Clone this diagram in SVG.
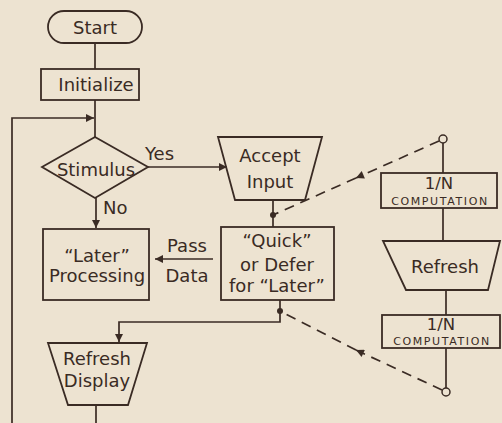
<svg xmlns="http://www.w3.org/2000/svg" width="502" height="423" viewBox="0 0 502 423">
<style>
.bg{fill:#ede3d1}
.shape{fill:none;stroke:#3a2b24;stroke-width:1.8}
.line{fill:none;stroke:#3a2b24;stroke-width:1.7}
.dash{fill:none;stroke:#3a2b24;stroke-width:1.7;stroke-dasharray:10 7}
.dot{fill:#3a2b24}
.ring{fill:#ede3d1;stroke:#3a2b24;stroke-width:1.5}
text{font-family:"DejaVu Sans","Liberation Sans",sans-serif;font-size:18px;fill:#3a2b24;text-anchor:middle}
.mid{font-size:16.5px}
.small{font-size:11px;letter-spacing:1.6px}
.left{text-anchor:start}
</style>
<defs>
<marker id="arr" viewBox="0 0 10 10" refX="10" refY="5" markerWidth="10" markerHeight="8" markerUnits="userSpaceOnUse" orient="auto">
<path d="M0,0 L10,5 L0,10 Z" fill="#3a2b24"/>
</marker>
</defs>
<rect class="bg" x="0" y="0" width="502" height="423"/>

<g id="connectors">
<line class="line" x1="95" y1="43" x2="95" y2="69"/>
<line class="line" x1="95" y1="100" x2="95" y2="137"/>
<polyline class="line" points="12,423 12,118 94,118" marker-end="url(#arr)"/>
<line class="line" x1="148" y1="167" x2="227" y2="167" marker-end="url(#arr)"/>
<text class="left" x="145" y="160">Yes</text>
<line class="line" x1="96" y1="198" x2="96" y2="228" marker-end="url(#arr)"/>
<text class="left" x="103" y="214">No</text>
<line class="line" x1="273" y1="200" x2="273" y2="227"/>
<circle class="dot" cx="273" cy="215" r="3"/>
<line class="line" x1="213" y1="259" x2="155" y2="259" marker-end="url(#arr)"/>
<text x="187" y="252">Pass</text>
<text x="187" y="282">Data</text>
<polyline class="line" points="280,300 280,322 119,322 119,342" marker-end="url(#arr)"/>
<circle class="dot" cx="280" cy="311" r="3"/>
<line class="line" x1="96" y1="405" x2="96" y2="423"/>
<line class="line" x1="443" y1="143" x2="443" y2="173"/>
<circle class="ring" cx="443" cy="139" r="4"/>
<line class="line" x1="443" y1="208" x2="443" y2="241"/>
<line class="line" x1="446" y1="290" x2="446" y2="315"/>
<line class="line" x1="446" y1="348" x2="446" y2="388"/>
<circle class="ring" cx="446" cy="392" r="4"/>
<line class="dash" x1="439" y1="141" x2="356" y2="178" marker-end="url(#arr)"/>
<line class="dash" x1="356" y1="178" x2="273" y2="215"/>
<line class="dash" x1="442" y1="390" x2="356" y2="350" marker-end="url(#arr)"/>
<line class="dash" x1="356" y1="350" x2="280" y2="311"/>
</g>

<g id="start">
<rect class="shape" x="48" y="11" width="94" height="32" rx="16"/>
<text x="95" y="34">Start</text>
</g>
<g id="initialize">
<rect class="shape" x="41" y="69" width="98" height="31"/>
<text x="96" y="91">Initialize</text>
</g>
<g id="stimulus">
<polygon class="shape" points="95,137 148,167 95,198 42,167"/>
<text x="96" y="176">Stimulus</text>
</g>
<g id="accept-input">
<polygon class="shape" points="218,137 322,137 305,200 235,200"/>
<text x="270" y="162">Accept</text>
<text x="270" y="188">Input</text>
</g>
<g id="quick-defer">
<rect class="shape" x="221" y="227" width="113" height="73"/>
<text x="277" y="247">“Quick”</text>
<text x="277" y="271">or Defer</text>
<text x="277" y="292">for “Later”</text>
</g>
<g id="later-processing">
<rect class="shape" x="43" y="229" width="106" height="71"/>
<text x="97" y="262">“Later”</text>
<text x="97" y="282">Processing</text>
</g>
<g id="refresh-display">
<polygon class="shape" points="48,343 147,343 128,405 68,405"/>
<text x="97" y="365">Refresh</text>
<text x="97" y="387">Display</text>
</g>
<g id="computation-1">
<rect class="shape" x="381" y="173" width="116" height="35"/>
<text class="mid" x="439" y="189">1/N</text>
<text class="small" x="440" y="205">COMPUTATION</text>
</g>
<g id="refresh">
<polygon class="shape" points="383,241 500,241 488,290 406,290"/>
<text x="445" y="273">Refresh</text>
</g>
<g id="computation-2">
<rect class="shape" x="382" y="315" width="118" height="33"/>
<text class="mid" x="441" y="330">1/N</text>
<text class="small" x="442" y="345">COMPUTATION</text>
</g>
</svg>
